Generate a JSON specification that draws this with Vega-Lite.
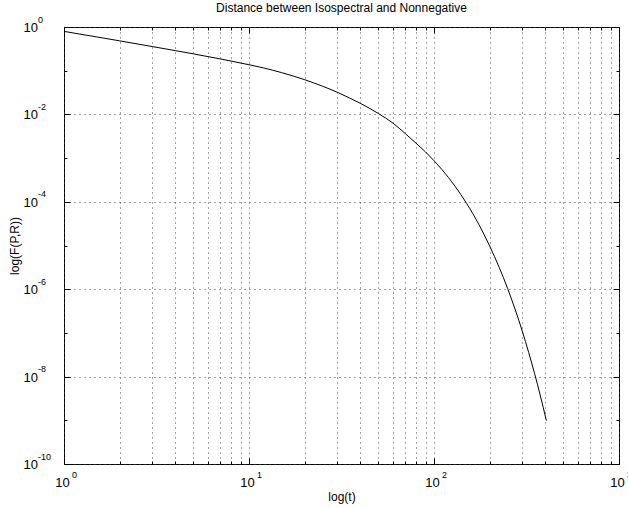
{
  "$schema": "https://vega.github.io/schema/vega-lite/v6.json",
  "width": 555,
  "height": 437,
  "autosize": "none",
  "padding": {"left": 64, "top": 27, "right": 9, "bottom": 44},
  "background": "white",
  "config": {
    "font": "Liberation Sans",
    "view": {"stroke": "black", "strokeWidth": 1},
    "axis": {"labelFont": "Liberation Sans", "titleFont": "Liberation Sans", "labelColor": "black", "titleColor": "black", "domain": false, "tickColor": "black", "tickWidth": 1, "labelFontSize": 13, "titleFontSize": 12, "titleFontWeight": "normal", "labelFlush": false, "labelOverlap": false}
  },
  "title": {"text": "Distance between Isospectral and Nonnegative", "fontSize": 12, "fontWeight": "normal", "font": "Liberation Sans", "color": "black", "anchor": "middle", "offset": 0},
  "data": {"values": [
    {"t": 1, "f": 0.794},
    {"t": 1.5, "f": 0.593},
    {"t": 2, "f": 0.482},
    {"t": 3, "f": 0.357},
    {"t": 4, "f": 0.288},
    {"t": 5, "f": 0.243},
    {"t": 6, "f": 0.210},
    {"t": 7, "f": 0.186},
    {"t": 8, "f": 0.166},
    {"t": 10, "f": 0.137},
    {"t": 12, "f": 0.1156},
    {"t": 15, "f": 0.0904},
    {"t": 20, "f": 0.0622},
    {"t": 25, "f": 0.0441},
    {"t": 30, "f": 0.0321},
    {"t": 35, "f": 0.0237},
    {"t": 40, "f": 0.0179},
    {"t": 45, "f": 0.01365},
    {"t": 50, "f": 0.0105},
    {"t": 60, "f": 0.00631},
    {"t": 70, "f": 0.00363},
    {"t": 80, "f": 0.00219},
    {"t": 90, "f": 0.00138},
    {"t": 100, "f": 0.000871},
    {"t": 110, "f": 0.000556},
    {"t": 130, "f": 0.000226},
    {"t": 150, "f": 0.0000921},
    {"t": 175, "f": 0.000030},
    {"t": 200, "f": 0.0000097},
    {"t": 225, "f": 0.00000318},
    {"t": 250, "f": 0.00000104},
    {"t": 275, "f": 0.000000337},
    {"t": 300, "f": 0.00000011},
    {"t": 325, "f": 0.0000000356},
    {"t": 350, "f": 0.0000000116},
    {"t": 375, "f": 0.00000000378},
    {"t": 405, "f": 0.00000000098}
  ]},
  "resolve": {"axis": {"x": "independent", "y": "independent"}},
  "layer": [
    {
      "mark": {"type": "line", "color": "black", "strokeWidth": 1, "interpolate": "monotone"},
      "encoding": {
        "x": {"field": "t", "type": "quantitative",
          "scale": {"type": "log", "domain": [1, 1000], "nice": false},
          "axis": {"orient": "bottom", "title": "log(t)", "titleX": 277.5, "titleY": 36.5, "titleAlign": "center", "titleBaseline": "alphabetic",
            "values": [1,2,3,4,5,6,7,8,9,10,20,30,40,50,60,70,80,90,100,200,300,400,500,600,700,800,900,1000],
            "labels": false,
            "grid": true, "gridColor": "#444", "gridDash": [1, 4], "gridWidth": 1,
            "tickSize": {"condition": {"test": "datum.value==1||datum.value==10||datum.value==100||datum.value==1000", "value": -6}, "value": -3}}},
        "y": {"field": "f", "type": "quantitative",
          "scale": {"type": "log", "domain": [1e-10, 1], "nice": false},
          "axis": {"orient": "left", "title": "log(F(P,R))", "titleX": -50, "titleY": 218.5, "titleAlign": "center", "titleBaseline": "middle", "titleAngle": -90,
            "values": [1, 0.1, 0.01, 0.001, 0.0001, 0.00001, 0.000001, 0.0000001, 0.00000001, 0.000000001, 0.0000000001],
            "labels": false,
            "grid": true, "gridColor": "#444", "gridDash": [1, 4], "gridWidth": 1,
            "gridOpacity": {"condition": {"test": "round(log(datum.value)/LN10)%2==0", "value": 1}, "value": 0},
            "tickSize": {"condition": {"test": "round(log(datum.value)/LN10)%2==0", "value": -6}, "value": -3}}}
      }
    },
    {
      "mark": {"type": "line", "opacity": 0},
      "encoding": {
        "x": {"field": "t", "type": "quantitative",
          "scale": {"type": "log", "domain": [1, 1000], "nice": false},
          "axis": {"orient": "top", "title": null, "labels": false, "grid": false,
            "values": [1,2,3,4,5,6,7,8,9,10,20,30,40,50,60,70,80,90,100,200,300,400,500,600,700,800,900,1000],
            "tickSize": {"condition": {"test": "datum.value==1||datum.value==10||datum.value==100||datum.value==1000", "value": -6}, "value": -3}}},
        "y": {"field": "f", "type": "quantitative",
          "scale": {"type": "log", "domain": [1e-10, 1], "nice": false},
          "axis": {"orient": "right", "title": null, "labels": false, "grid": false,
            "values": [1, 0.1, 0.01, 0.001, 0.0001, 0.00001, 0.000001, 0.0000001, 0.00000001, 0.000000001, 0.0000000001],
            "tickSize": {"condition": {"test": "round(log(datum.value)/LN10)%2==0", "value": -6}, "value": -3}}}
      }
    },
    {
      "mark": {"type": "line", "opacity": 0},
      "encoding": {
        "x": {"field": "t", "type": "quantitative",
          "scale": {"type": "log", "domain": [1, 1000], "nice": false},
          "axis": {"orient": "bottom", "title": null, "grid": false, "ticks": false,
            "values": [1, 10, 100, 1000],
            "labelExpr": "'10'", "labelAlign": "center", "labelBaseline": "alphabetic", "labelPadding": 22.5, "labelOffset": -2, "labelFontSize": 13}},
        "y": {"field": "f", "type": "quantitative",
          "scale": {"type": "log", "domain": [1e-10, 1], "nice": false},
          "axis": {"orient": "left", "title": null, "grid": false, "ticks": false,
            "values": [1, 0.01, 0.0001, 0.000001, 0.00000001, 0.0000000001],
            "labelExpr": "'10'", "labelAlign": "left", "labelBaseline": "alphabetic", "labelPadding": 41, "labelOffset": 4.5, "labelFontSize": 13}}
      }
    },
    {
      "mark": {"type": "line", "opacity": 0},
      "encoding": {
        "x": {"field": "t", "type": "quantitative",
          "scale": {"type": "log", "domain": [1, 1000], "nice": false},
          "axis": {"orient": "bottom", "title": null, "grid": false, "ticks": false,
            "values": [1, 10, 100, 1000],
            "labelExpr": "'' + round(log(datum.value)/LN10)", "labelAlign": "left", "labelBaseline": "alphabetic", "labelPadding": 13.5, "labelOffset": 7.5, "labelFontSize": 9}},
        "y": {"field": "f", "type": "quantitative",
          "scale": {"type": "log", "domain": [1e-10, 1], "nice": false},
          "axis": {"orient": "left", "title": null, "grid": false, "ticks": false,
            "values": [1, 0.01, 0.0001, 0.000001, 0.00000001, 0.0000000001],
            "labelExpr": "'' + round(log(datum.value)/LN10)", "labelAlign": "left", "labelBaseline": "alphabetic", "labelPadding": 26.5, "labelOffset": -5, "labelFontSize": 9}}
      }
    }
  ]
}
